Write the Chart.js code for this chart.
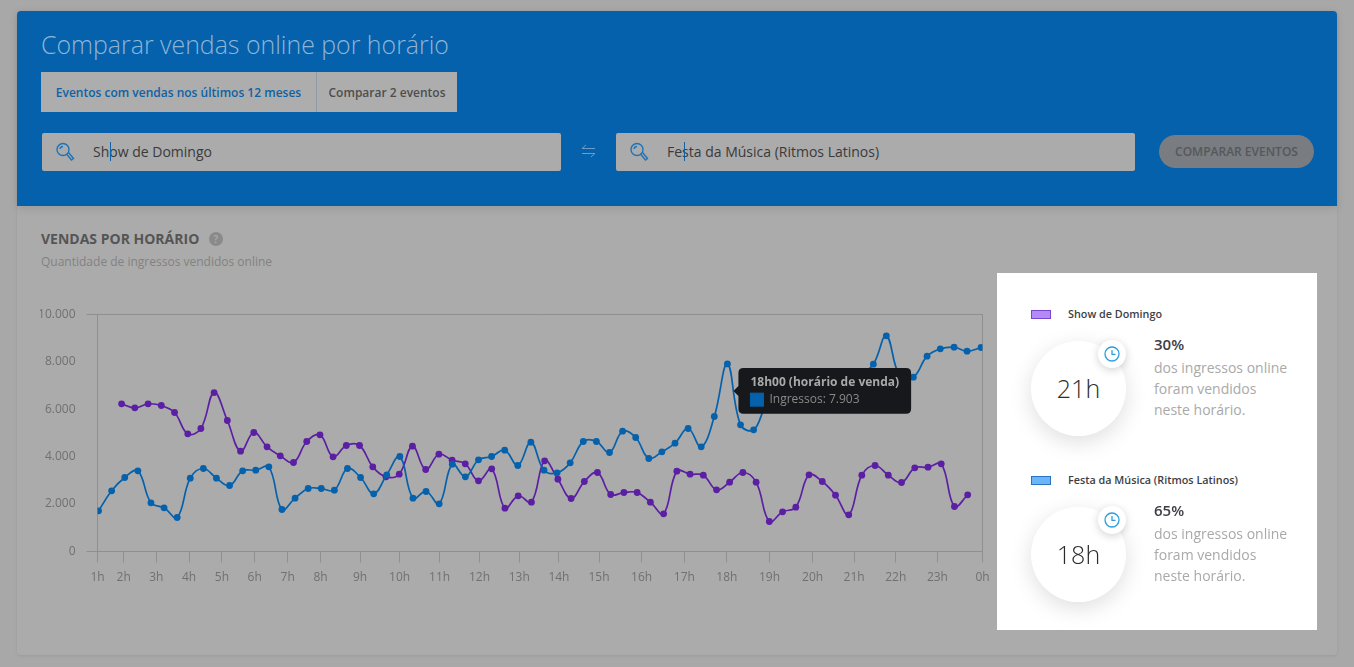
<!DOCTYPE html>
<html lang="pt-BR">
<head>
<meta charset="utf-8">
<title>Comparar vendas online por horário</title>
<script src="https://cdn.jsdelivr.net/npm/chart.js@4"></script>
<style>
  * { box-sizing: border-box; }
  html, body { margin: 0; width: 1354px; height: 667px; overflow: hidden; background: #a8a8a8; font-family: "Open Sans", sans-serif; }
  .abs { position: absolute; white-space: nowrap; }
  #card { left: 17px; top: 11px; width: 1320px; height: 644px; background: #ababab; border-radius: 4px; box-shadow: 0 1px 3px rgba(0,0,0,.08); }
  #header { left: 17px; top: 11px; width: 1320px; height: 195px; background: #0561ab; border-radius: 4px 4px 0 0; box-shadow: 0 2px 8px rgba(0,0,0,.12); }
  #title { left: 41px; top: 28px; font-size: 24.900px; font-weight: 300; line-height: 33px; color: #8fb5d6; }
  .tab { top: 72px; height: 40px; background: #adadad; font-size: 12px; font-weight: 600; line-height: 41px; text-align: center; }
  .field { top: 133px; height: 38px; background: #ababab; border-radius: 2px; font-size: 14px; line-height: 38px; color: #3a3a3a; padding-left: 51px; }
  .cursor { top: 142px; width: 1px; height: 19px; background: #0f63a8; }
  #compare { left: 1159px; top: 135px; width: 155px; height: 33px; border-radius: 17px; background: #797c80; color: #55585c; font-size: 12px; font-weight: 600; line-height: 33px; text-align: center; }
  #section { left: 41px; top: 230px; font-size: 14px; font-weight: 700; line-height: 18px; color: #555; }
  #help { left: 209px; top: 232px; width: 14px; height: 14px; border-radius: 50%; background: #8a8a8a; color: #a5a5a5; font-size: 10px; font-weight: 700; line-height: 14px; text-align: center; }
  #sub { left: 41px; top: 253px; font-size: 12px; line-height: 18px; color: #828282; }
  #plot { left: 40px; top: 296px; width: 960px; height: 300px; }
  #summary { left: 997px; top: 273px; width: 320px; height: 357px; background: #fff; }
  .swatch { left: 34px; width: 20px; height: 9px; border: 1px solid; }
  .name { left: 71px; font-size: 10.800px; font-weight: 600; line-height: 16px; color: #3d3d45; }
  .dial { left: 34px; width: 95px; height: 95px; border-radius: 50%; background: #fff; box-shadow: 0 6px 22px rgba(0,0,0,.13); font-size: 25px; font-weight: 300; line-height: 95px; text-align: center; color: #2b2b2b; }
  .badge { left: 101px; width: 28px; height: 28px; border-radius: 50%; background: #fff; box-shadow: 0 2px 8px rgba(0,0,0,.18); }
  .share { left: 157px; font-size: 15px; font-weight: 600; line-height: 20px; color: #3d3d45; }
  .note { left: 157px; font-size: 14px; line-height: 21px; color: #a9a9a9; white-space: pre; }
</style>
</head>
<body>
<div class="abs" id="card"></div>
<div class="abs" id="header"></div>
<div class="abs" id="title">Comparar vendas online por horário</div>
<div class="abs tab" style="left:41px;width:275px;color:#0f62a4">Eventos com vendas nos últimos 12 meses</div>
<div class="abs tab" style="left:316px;width:141px;color:#4e4e4e;border-left:1px solid #8f9ba5">Comparar 2 eventos</div>

<div class="abs field" style="left:42px;width:519px">Show de Domingo</div>
<div class="abs cursor" style="left:110px"></div>
<svg class="abs" style="left:54px;top:141px" width="22" height="22" viewBox="0 0 22 22" fill="none" stroke="#1f74b8" stroke-width="1.4"><circle cx="9" cy="8.500" r="6"/><path d="M12.500 13l5 6 2-1.500-5-6M6 8a3 3 0 0 1 3-2.500"/></svg>
<svg class="abs" style="left:581px;top:144px" width="15" height="14" viewBox="0 0 15 14" fill="none" stroke="#6d9dc8" stroke-width="1"><path d="M5 1L1 4.500h13M10 13l4-3.500H1"/></svg>
<div class="abs field" style="left:616px;width:519px">Festa da Música (Ritmos Latinos)</div>
<div class="abs cursor" style="left:684px"></div>
<svg class="abs" style="left:628px;top:141px" width="22" height="22" viewBox="0 0 22 22" fill="none" stroke="#1f74b8" stroke-width="1.4"><circle cx="9" cy="8.500" r="6"/><path d="M12.500 13l5 6 2-1.500-5-6M6 8a3 3 0 0 1 3-2.500"/></svg>
<div class="abs" id="compare">COMPARAR EVENTOS</div>

<div class="abs" id="section">VENDAS POR HORÁRIO</div>
<div class="abs" id="help">?</div>
<div class="abs" id="sub">Quantidade de ingressos vendidos online</div>

<div class="abs" id="plot"><canvas id="salesChart" width="960" height="300"></canvas></div>

<div class="abs" id="summary">
  <div class="abs swatch" style="top:37px;background:#b38bf6;border-color:#7a45cf"></div>
  <div class="abs name" style="top:33px">Show de Domingo</div>
  <div class="abs dial" style="top:68px">21h</div>
  <div class="abs badge" style="top:67px"><svg width="28" height="28" fill="none" stroke="#2b9de0" stroke-width="1.300"><circle cx="14" cy="14" r="7"/><path d="M14 10v4.300h3.500"/></svg></div>
  <div class="abs share" style="top:61px">30%</div>
  <div class="abs note" style="top:84px">dos ingressos online
foram vendidos
neste horário.</div>

  <div class="abs swatch" style="top:203px;background:#6db5fa;border-color:#2a74c2"></div>
  <div class="abs name" style="top:199px">Festa da Música (Ritmos Latinos)</div>
  <div class="abs dial" style="top:234px">18h</div>
  <div class="abs badge" style="top:233px"><svg width="28" height="28" fill="none" stroke="#2b9de0" stroke-width="1.300"><circle cx="14" cy="14" r="7"/><path d="M14 10v4.300h3.500"/></svg></div>
  <div class="abs share" style="top:227px">65%</div>
  <div class="abs note" style="top:250px">dos ingressos online
foram vendidos
neste horário.</div>
</div>

<script>
// hour labels and where each one sits along the sampling slots
const hourLabels = ['1h', '2h', '3h', '4h', '5h', '6h', '7h', '8h', '9h', '10h', '11h', '12h',
  '13h', '14h', '15h', '16h', '17h', '18h', '19h', '20h', '21h', '22h', '23h', '0h'];
const hourSlots = [-0.08, 1.92, 4.41, 6.91, 9.42, 11.92, 14.44, 16.95, 19.96, 22.98, 26.03, 29.08,
  32.11, 35.14, 38.2, 41.45, 44.71, 47.96, 51.21, 54.5, 57.67, 60.85, 64.03, 67.47];
const yTicks = [0, 2000, 4000, 6000, 8000, 10000];

const festaSlots = [0, 1, 2, 3, 4, 5, 6, 7, 8, 9, 10, 11, 12, 13, 14, 15, 16, 17, 18, 19, 20, 21, 22, 23,
  24, 25, 26, 27, 28, 29, 30, 31, 32, 33, 34, 35, 36, 37, 38, 39, 40, 41, 42, 43, 44, 45, 46, 47, 48, 49, 50,
  51, 52.05, 53.1, 54.1, 55.1, 56.1, 57.1, 58.1, 59.14, 60.13, 61.15, 62.19, 63.24, 64.25, 65.3, 66.29, 67.36];
const festaValues = [1713, 2556, 3118, 3399, 2051, 1840, 1433, 3090, 3497, 3090, 2781, 3399,
  3427, 3567, 1770, 2247, 2654, 2654, 2584, 3497, 3118, 2430, 3230, 4003,
  2247, 2528, 2008, 3680, 3146, 3862, 4003, 4270, 3624, 4607, 3427, 3315,
  3736, 4635, 4635, 4171, 5070, 4803, 3919, 4199, 4565, 5183, 4410, 5688,
  7903, 5337, 5126, 6180, 6531, 6882, 7093, 6671, 6952, 7233, 7444, 7893,
  9087, 7402, 7345, 8230, 8539, 8610, 8441, 8596];

const showSlots = [1.76, 2.77, 3.78, 4.79, 5.80, 6.81, 7.81, 8.82, 9.83, 10.84, 11.85, 12.86, 13.87,
  14.88, 15.89, 16.90, 17.90, 18.91, 19.92, 20.93, 21.94, 22.95, 23.96, 24.97, 25.98, 26.99,
  27.99, 29.00, 30.01, 31.02, 32.03, 33.04, 34.05, 35.06, 36.07, 37.08, 38.08, 39.09, 40.10,
  41.11, 42.12, 43.13, 44.14, 45.15, 46.16, 47.17, 48.17, 49.18, 50.19, 51.20, 52.21, 53.22,
  54.23, 55.24, 56.25, 57.26, 58.26, 59.27, 60.28, 61.29, 62.30, 63.31, 64.32, 65.33, 66.34];
const showValues = [6222, 6053, 6222, 6152, 5857, 4958, 5183, 6699, 5520, 4228,
  5014, 4410, 4031, 3750, 4635, 4916, 3989, 4466, 4466, 3567,
  3146, 3258, 4438, 3455, 4101, 3848, 3694, 2977, 3483, 1826,
  2346, 2079, 3820, 3048, 2233, 2949, 3329, 2402, 2486, 2486,
  2079, 1587, 3385, 3258, 3216, 2598, 2921, 3329, 2921, 1264,
  1671, 1868, 3230, 2949, 2374, 1545, 3216, 3624, 3216, 2907,
  3525, 3553, 3694, 1896, 2388];

const festaColor = '#0561ab';
const showColor = '#5b1fa3';
const axisColor = '#8f8f8f';
const labelColor = '#707070';
const highlightedIndex = 48;

function points(slots, values) {
  return values.map((y, i) => ({ x: slots[i], y }));
}

function formatThousands(value) {
  return String(value).replace(/\B(?=(\d{3})+$)/g, '.');
}

// the tooltip box hangs a little below the point it describes
Chart.Tooltip.positioners.belowPoint = function (items) {
  if (!items.length) return false;
  return { x: items[0].element.x, y: items[0].element.y + 27 };
};

Chart.defaults.font.family = '"Open Sans", sans-serif';
Chart.defaults.font.size = 12;

const chart = new Chart(document.getElementById('salesChart'), {
  type: 'line',
  data: {
    datasets: [{
      label: 'Festa da Música (Ritmos Latinos)',
      data: points(festaSlots, festaValues),
      borderColor: festaColor,
      backgroundColor: festaColor
    }, {
      label: 'Show de Domingo',
      data: points(showSlots, showValues),
      borderColor: showColor,
      backgroundColor: showColor
    }]
  },
  options: {
    responsive: false,
    animation: false,
    events: [],
    layout: { padding: { top: 7.5, right: 17.5, left: 0, bottom: 0 } },
    elements: {
      line: { borderWidth: 1.7, tension: 0.4 },
      point: { radius: 3.4, hoverRadius: 3.4, borderWidth: 0 }
    },
    scales: {
      x: {
        type: 'linear',
        min: -0.08,
        max: 67.47,
        afterBuildTicks: axis => { axis.ticks = hourSlots.map(value => ({ value })); },
        afterFit: axis => { axis.height = 44.5; },
        border: { display: false },
        grid: {
          // only the first and last hour get a full height line
          color: c => (c.index === 0 || c.index === hourSlots.length - 1) ? axisColor : 'transparent',
          tickColor: axisColor,
          tickLength: 11
        },
        ticks: {
          autoSkip: false,
          maxRotation: 0,
          padding: 8,
          color: labelColor,
          callback: (value, index) => hourLabels[index]
        }
      },
      y: {
        min: 0,
        max: 10000,
        afterBuildTicks: axis => { axis.ticks = yTicks.map(value => ({ value })); },
        afterFit: axis => { axis.width = 57.5; },
        border: { display: false },
        grid: {
          color: c => (c.tick.value === 0 || c.tick.value === 10000) ? axisColor : 'transparent',
          tickColor: c => (c.tick.value === 0 || c.tick.value === 10000) ? axisColor : 'transparent',
          tickLength: 11
        },
        ticks: {
          padding: 11,
          color: labelColor,
          callback: value => formatThousands(value)
        }
      }
    },
    plugins: {
      legend: { display: false },
      tooltip: {
        enabled: true,
        animation: false,
        position: 'belowPoint',
        xAlign: 'left',
        yAlign: 'center',
        backgroundColor: '#17181c',
        titleColor: '#a9a9a9',
        bodyColor: '#8a8a8a',
        titleFont: { size: 12, weight: '700' },
        bodyFont: { size: 12 },
        titleMarginBottom: 3,
        padding: { left: 12, right: 12, top: 7, bottom: 7 },
        cornerRadius: 5,
        caretSize: 5,
        caretPadding: 6,
        boxWidth: 13,
        boxHeight: 13,
        boxPadding: 4,
        multiKeyBackground: festaColor,
        callbacks: {
          title: () => '18h00 (horário de venda)',
          label: item => 'Ingressos: ' + formatThousands(item.parsed.y),
          labelColor: () => ({ borderColor: festaColor, backgroundColor: festaColor, borderWidth: 0 })
        }
      }
    }
  }
});

// keep the 18h tooltip open on the first series
chart.tooltip.setActiveElements([{ datasetIndex: 0, index: highlightedIndex }], { x: 0, y: 0 });
chart.update('none');
</script>
</body>
</html>
